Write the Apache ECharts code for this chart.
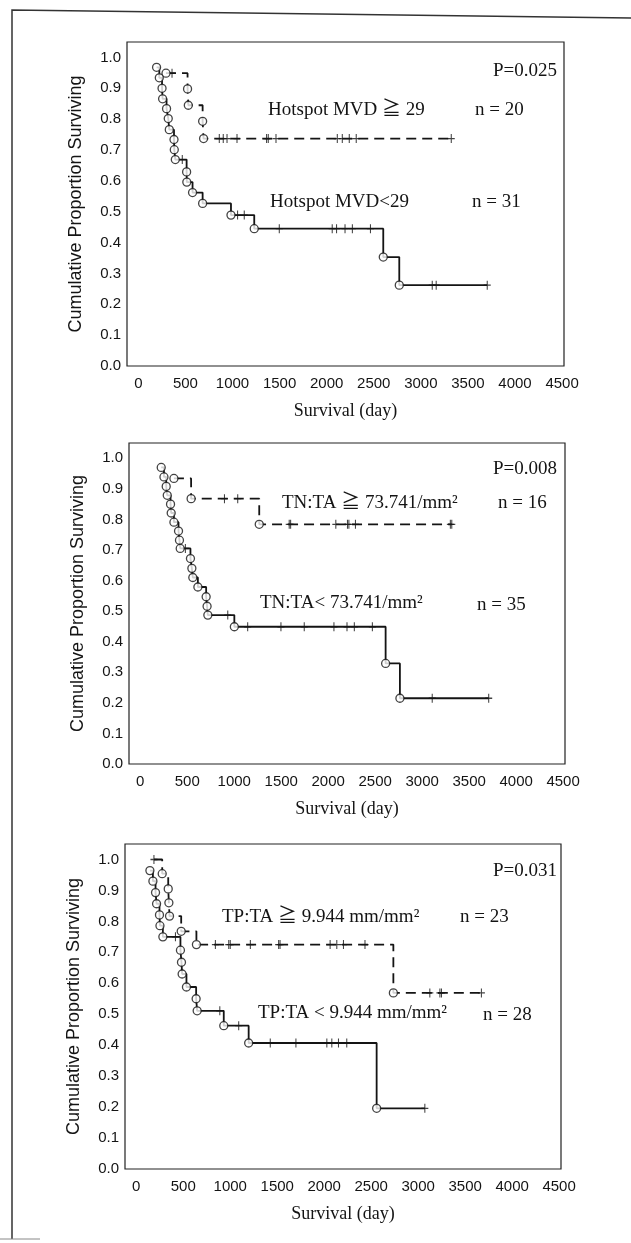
<!DOCTYPE html>
<html>
<head>
<meta charset="utf-8">
<script src="https://cdn.jsdelivr.net/npm/echarts@6/dist/echarts.min.js"></script>
<style>
  body { margin: 0; background: #fff; }
  #main { width: 631px; height: 1243px; }
</style>
</head>
<body>
<div id="main"></div>
<script>
// tick values
var xTicks = [0, 500, 1000, 1500, 2000, 2500, 3000, 3500, 4000, 4500];
var yTicks = [0, 0.1, 0.2, 0.3, 0.4, 0.5, 0.6, 0.7, 0.8, 0.9, 1.0];

// panel 1: Hotspot MVD  [day, cumulative survival]
var p1HighEvents = [[294, 0.949], [523, 0.898], [531, 0.845], [683, 0.793], [693, 0.737]];
var p1HighCensor = [[358, 0.949], [860, 0.737], [902, 0.737], [942, 0.737], [1048, 0.737], [1362, 0.737], [1380, 0.737],
    [1462, 0.737], [2113, 0.737], [2166, 0.737], [2240, 0.737], [2314, 0.737], [3323, 0.737]];
var p1LowEvents = [[194, 0.968], [223, 0.934], [252, 0.900], [258, 0.866], [300, 0.834], [318, 0.802], [329, 0.766],
    [379, 0.734], [382, 0.701], [393, 0.669], [513, 0.629], [515, 0.596], [576, 0.562], [683, 0.527], [984, 0.489],
    [1231, 0.445], [2601, 0.353], [2771, 0.262]];
var p1LowCensor = [[467, 0.669], [1054, 0.489], [1125, 0.489], [1497, 0.445], [2059, 0.445], [2105, 0.445], [2195, 0.445],
    [2273, 0.445], [2465, 0.445], [3121, 0.262], [3163, 0.262], [3705, 0.262]];

// panel 2: TN:TA
var p2HighEvents = [[358, 0.934], [541, 0.868], [1266, 0.784]];
var p2HighCensor = [[896, 0.868], [1037, 0.868], [1585, 0.784], [1600, 0.784], [2081, 0.784], [2205, 0.784], [2220, 0.784],
    [2290, 0.784], [3300, 0.784], [3315, 0.784]];
var p2LowEvents = [[223, 0.970], [252, 0.939], [276, 0.908], [287, 0.879], [322, 0.850], [329, 0.821], [358, 0.791],
    [407, 0.762], [417, 0.732], [425, 0.705], [534, 0.672], [549, 0.640], [559, 0.610], [613, 0.579], [701, 0.547],
    [711, 0.516], [719, 0.487], [1001, 0.449], [2611, 0.329], [2763, 0.215]];
var p2LowCensor = [[480, 0.705], [931, 0.487], [1143, 0.449], [1497, 0.449], [1745, 0.449], [2061, 0.449], [2200, 0.449],
    [2278, 0.449], [2470, 0.449], [3107, 0.215], [3708, 0.215]];

// panel 3: TP:TA
var p3HighEvents = [[276, 0.954], [340, 0.905], [347, 0.860], [354, 0.817], [478, 0.768], [640, 0.725], [2736, 0.569]];
var p3HighCensor = [[188, 1.0], [842, 0.725], [984, 0.725], [1000, 0.725], [1214, 0.725], [1515, 0.725], [1530, 0.725],
    [2063, 0.725], [2134, 0.725], [2205, 0.725], [2434, 0.725], [3124, 0.569], [3231, 0.569], [3248, 0.569], [3673, 0.569]];
var p3LowEvents = [[145, 0.964], [177, 0.930], [205, 0.893], [216, 0.857], [247, 0.821], [252, 0.786], [283, 0.750],
    [470, 0.707], [481, 0.668], [488, 0.630], [534, 0.588], [637, 0.550], [648, 0.511], [931, 0.463], [1196, 0.407],
    [2558, 0.196]];
var p3LowCensor = [[417, 0.750], [889, 0.511], [1090, 0.463], [1426, 0.407], [1699, 0.407], [2028, 0.407], [2081, 0.407],
    [2152, 0.407], [2240, 0.407], [3071, 0.196]];

var curves = [
    [p1HighEvents, p1HighCensor, true], [p1LowEvents, p1LowCensor, false],
    [p2HighEvents, p2HighCensor, true], [p2LowEvents, p2LowCensor, false],
    [p3HighEvents, p3HighCensor, true], [p3LowEvents, p3LowCensor, false]
];

var chart = echarts.init(document.getElementById('main'));
var sans = "'Liberation Sans', Arial, sans-serif";
var serif = "'Liberation Serif', 'Times New Roman', 'Noto Sans CJK JP', serif";
var ink = '#141414';

var grids = [
    { left: 127, right: 67, top: 42, height: 324 },
    { left: 129, right: 66, top: 443, height: 321 },
    { left: 125, right: 70, top: 844, height: 325 }
];

var xAxes = [], yAxes = [], series = [];
grids.forEach(function (g, i) {
    g.show = true;
    g.borderColor = '#222';
    g.borderWidth = 1.2;
    xAxes.push({
        gridIndex: i, type: 'value', min: -120, max: 4520,
        axisLine: { show: false }, axisTick: { show: false }, splitLine: { show: false },
        axisLabel: {
            customValues: xTicks, color: ink, fontFamily: sans, fontSize: 15, margin: 10,
            formatter: function (v) { return String(v); }
        },
        name: 'Survival (day)', nameLocation: 'middle', nameGap: 36,
        nameTextStyle: { color: ink, fontFamily: serif, fontSize: 18 }
    });
    yAxes.push({
        gridIndex: i, type: 'value', min: 0, max: 1.05,
        axisLine: { show: false }, axisTick: { show: false }, splitLine: { show: false },
        axisLabel: {
            customValues: yTicks, color: ink, fontFamily: sans, fontSize: 15, margin: 6,
            formatter: function (v) { return v.toFixed(1); }
        },
        name: 'Cumulative Proportion Surviving', nameLocation: 'middle', nameGap: 42,
        nameTextStyle: { color: ink, fontFamily: sans, fontSize: 18 }
    });
});

curves.forEach(function (c, k) {
    var panel = Math.floor(k / 2);
    var events = c[0], censor = c[1], dashed = c[2];
    var path = events.concat(censor).sort(function (a, b) { return a[0] - b[0]; });
    series.push({
        type: 'line', xAxisIndex: panel, yAxisIndex: panel, data: path, step: 'end',
        symbol: 'none', silent: true, z: 2,
        lineStyle: { color: ink, width: 1.8, type: dashed ? [10, 6] : 'solid' }
    });
    series.push({
        type: 'scatter', xAxisIndex: panel, yAxisIndex: panel, data: censor, z: 3, silent: true,
        symbol: 'path://M5,0L5,10M0,5L10,5', symbolSize: [7, 9],
        itemStyle: { color: 'none', borderColor: ink, borderWidth: 1.2 }
    });
    series.push({
        type: 'scatter', xAxisIndex: panel, yAxisIndex: panel, data: events, z: 4, silent: true,
        symbol: 'circle', symbolSize: 8,
        itemStyle: { color: '#fff', borderColor: ink, borderWidth: 1.3 }
    });
});

function label(x, y, text, align) {
    return {
        type: 'text', x: x, y: y, z: 10, silent: true,
        style: { text: text, font: '19px ' + serif, fill: ink, align: align || 'left', verticalAlign: 'middle' }
    };
}

var graphics = [
    // scanned page frame: left and (slightly tilted) top edge, short bottom stub
    { type: 'polyline', silent: true, shape: { points: [[12, 1239], [12, 10], [631, 18]] },
      style: { fill: 'none', stroke: '#333', lineWidth: 1.5 } },
    { type: 'line', silent: true, shape: { x1: 0, y1: 1239, x2: 40, y2: 1239 },
      style: { stroke: '#888', lineWidth: 1 } },
    label(557, 71, 'P=0.025', 'right'),
    label(268, 110, 'Hotspot MVD \u2267 29'), label(475, 110, 'n = 20'),
    label(270, 202, 'Hotspot MVD<29'), label(472, 202, 'n = 31'),
    label(557, 469, 'P=0.008', 'right'),
    label(282, 503, 'TN:TA \u2267 73.741/mm\u00b2'), label(498, 503, 'n = 16'),
    label(260, 603, 'TN:TA< 73.741/mm\u00b2'), label(477, 605, 'n = 35'),
    label(557, 871, 'P=0.031', 'right'),
    label(222, 917, 'TP:TA \u2267 9.944 mm/mm\u00b2'), label(460, 917, 'n = 23'),
    label(258, 1013, 'TP:TA < 9.944 mm/mm\u00b2'), label(483, 1015, 'n = 28')
];

chart.setOption({
    animation: false,
    backgroundColor: '#fff',
    grid: grids,
    xAxis: xAxes,
    yAxis: yAxes,
    series: series,
    graphic: graphics
});
</script>
</body>
</html>
